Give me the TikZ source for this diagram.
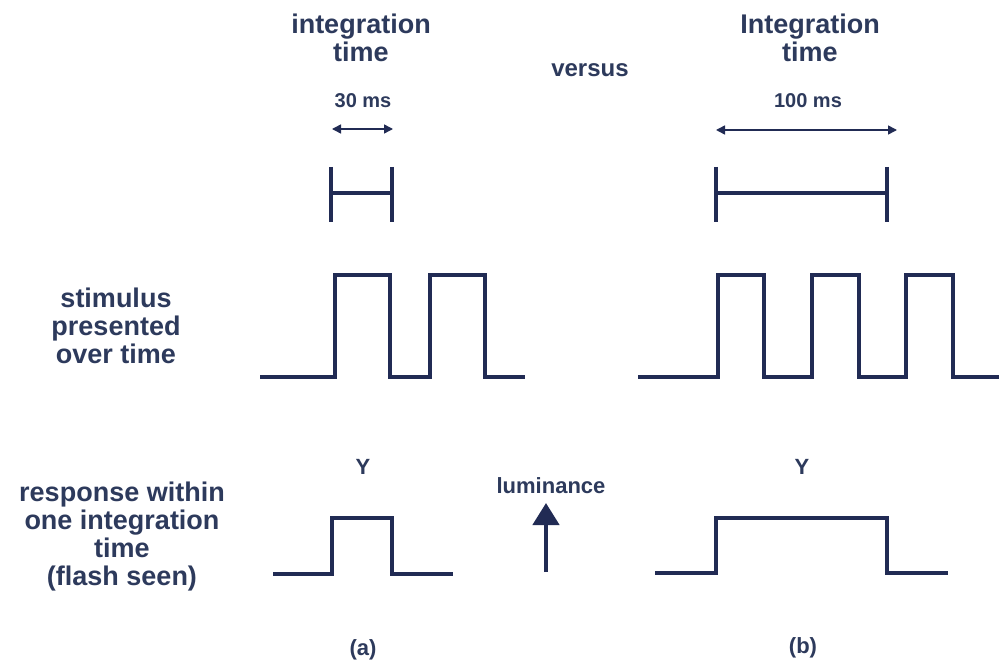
\documentclass[tikz,border=0pt]{standalone}
\usepackage{fontspec}
\setmainfont{Liberation Sans}
\usetikzlibrary{arrows.meta}
\definecolor{navy}{RGB}{33,43,84}
\definecolor{ink}{RGB}{45,58,92}
\begin{document}
\begin{tikzpicture}[x=1pt,y=-1pt,
  wave/.style={draw=navy,line width=4.2pt,line join=miter},
  lbl/.style={text=ink,font=\bfseries\fontsize{27}{28}\selectfont,align=center,inner sep=0pt},
  small/.style={text=ink,font=\bfseries\fontsize{20}{22}\selectfont,inner sep=0pt},
  mid/.style={text=ink,font=\bfseries\fontsize{22}{24}\selectfont,inner sep=0pt},
  dim/.style={draw=navy,line width=1.5pt,{Triangle[length=9pt,width=9pt]}-{Triangle[length=9pt,width=9pt]}},
]
\useasboundingbox[fill=white] (0,0) rectangle (999,666);

% headings
\node[lbl] (intA) at (361,38) {integration\\time};
\node[lbl] (intB) at (810,38) {Integration\\time};
\node[mid,font=\bfseries\fontsize{24}{26}\selectfont] (vs) at (590,70) {versus};
\node[small] (msA) at (363,101) {30 ms};
\node[small] (msB) at (808,101) {100 ms};

% dimension arrows
\coordinate (a1) at (332,129); \coordinate (a2) at (393,129);
\coordinate (b1) at (716,130); \coordinate (b2) at (897,130);
\draw[dim] (a1) -- (a2);
\draw[dim] (b1) -- (b2);

% H bars
\coordinate (ha1) at (331,167); \coordinate (ha2) at (331,222);
\coordinate (ha3) at (392,167); \coordinate (ha4) at (392,222);
\draw[wave] (ha1) -- (ha2);
\draw[wave] (ha3) -- (ha4);
\draw[wave] (331,193) -- (392,193);
\coordinate (hb1) at (716,167); \coordinate (hb2) at (716,222);
\coordinate (hb3) at (887,167); \coordinate (hb4) at (887,222);
\draw[wave] (hb1) -- (hb2);
\draw[wave] (hb3) -- (hb4);
\draw[wave] (716,193) -- (887,193);

% row labels
\node[lbl] (stim) at (116,326) {stimulus\\presented\\over time};
\node[lbl] (resp) at (122,537) {response within\\one integration\\time\\(flash seen)};

% stimulus waveforms
\draw[wave] (260,377) -| (335,275) -| (390,377) -| (430,275) -| (485,377) -- (525,377);
\draw[wave] (638,377) -| (718,275) -| (764,377) -| (812,275) -| (859,377) -| (906,275) -| (953,377) -- (999,377);

% responses
\node[mid] (ya) at (363,467) {Y};
\node[mid] (yb) at (802,467) {Y};
\draw[wave] (273,574) -| (332,518) -| (392,574) -- (453,574);
\draw[wave] (655,573) -| (716,518) -| (887,573) -- (948,573);

% luminance
\node[small,font=\bfseries\fontsize{22}{24}\selectfont] (lum) at (551,486) {luminance};
\coordinate (l1) at (546,572); \coordinate (l2) at (546,503);
\draw[draw=navy,line width=4.5pt,-{Triangle[length=22pt,width=26pt,fill=navy]}] (l1) -- (l2);

% captions
\node[mid] (capa) at (363,650) {(a)};
\node[mid] (capb) at (803,648) {(b)};
\end{tikzpicture}
\end{document}
